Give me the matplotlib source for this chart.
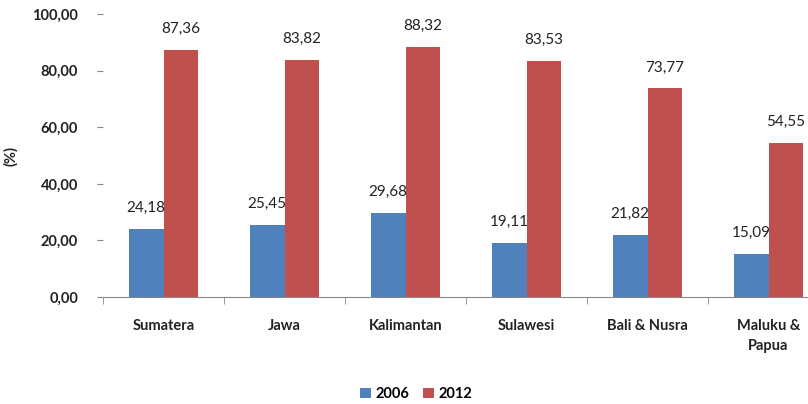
import matplotlib
matplotlib.use("Agg")
import matplotlib.pyplot as plt
import numpy as np

regions = ["Sumatera", "Jawa", "Kalimantan", "Sulawesi", "Bali & Nusra", "Maluku &\nPapua"]
values_2006 = [24.18, 25.45, 29.68, 19.11, 21.82, 15.09]
values_2012 = [87.36, 83.82, 88.32, 83.53, 73.77, 54.55]
series_labels = ["2006", "2012"]
yticks = [0, 20, 40, 60, 80, 100]

blue = "#4F81BD"
red = "#C0504D"

plt.rcParams["font.family"] = ["Lato", "DejaVu Sans"]

fig = plt.figure(figsize=(8.08, 4.04), dpi=100)
ax = fig.add_axes([0.1275, 0.265, 0.8985, 0.70])

x = np.arange(len(regions))
w = 0.286
b1 = ax.bar(x - w / 2, values_2006, w, color=blue, label=series_labels[0])
b2 = ax.bar(x + w / 2, values_2012, w, color=red, label=series_labels[1])

def fmt(v):
    return f"{v:.2f}".replace(".", ",")

for bars, vals in ((b1, values_2006), (b2, values_2012)):
    for rect, v in zip(bars, vals):
        ax.annotate(fmt(v), (rect.get_x() + rect.get_width() / 2, v),
                    xytext=(0, 10), textcoords="offset points",
                    ha="center", va="bottom", fontsize=11, color="#222222")

ax.set_xlim(-0.5, len(regions) - 0.5)
ax.set_ylim(0, 100)
ax.set_yticks(yticks)
ax.set_yticklabels([fmt(t) for t in yticks], fontsize=10.5, fontweight="bold", color="#222222")
ax.set_ylabel("(%)", fontsize=10.5, fontweight="bold", color="#222222")
ax.yaxis.set_label_coords(-0.117, 0.5)

ax.set_xticks(x)
ax.set_xticklabels(regions, fontsize=10.5, fontweight="bold", color="#222222",
                   linespacing=1.5, va="top")
ax.tick_params(axis="x", length=0, pad=16)
ax.set_xticks(np.arange(len(regions) + 1) - 0.5, minor=True)
ax.tick_params(axis="x", which="minor", length=5, color="#888888", direction="out")
ax.tick_params(axis="y", length=4, color="#888888", pad=14)

for s in ("top", "right", "left"):
    ax.spines[s].set_visible(False)
ax.spines["bottom"].set_color("#888888")

fig.legend(loc="lower center", bbox_to_anchor=(0.515, -0.025), ncol=2, frameon=False,
           handlelength=0.7, handleheight=0.7, handletextpad=0.3, columnspacing=1.0,
           prop={"size": 10.5, "weight": "bold"})

fig.savefig("out.png", dpi=100)
